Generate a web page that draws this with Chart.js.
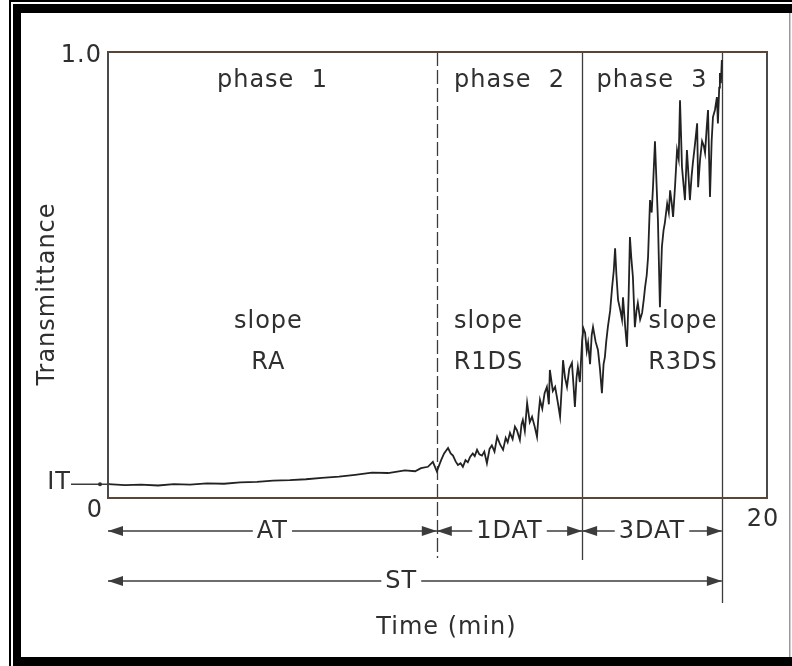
<!DOCTYPE html>
<html>
<head>
<meta charset="utf-8">
<script src="https://cdn.jsdelivr.net/npm/chart.js@4.4.1/dist/chart.umd.min.js"></script>
<style>
  html, body { margin: 0; padding: 0; background: #fff; }
  #wrap { width: 792px; height: 666px; position: relative; }
</style>
</head>
<body>
<div id="wrap"><canvas id="graficaTrans"></canvas></div>
<script>
// --- DATOS ---
const timeMin = [
  // fase 1
  0.00, 0.52, 1.00, 1.52, 2.00, 2.49, 3.00, 3.52, 4.01, 4.52, 5.01, 5.52, 6.01, 6.49, 7.01, 7.50,
  8.01, 8.50, 9.01, 9.32, 9.50, 9.71, 9.86, 9.98,
  // fase 2
  10.11, 10.20, 10.32, 10.40, 10.47, 10.55, 10.62, 10.70, 10.77, 10.85, 10.92, 10.99, 11.07, 11.13,
  11.20, 11.27, 11.35, 11.42, 11.50, 11.58, 11.65, 11.73, 11.81, 11.90, 11.99, 12.07, 12.13, 12.20,
  12.28, 12.35, 12.41, 12.50, 12.55, 12.59, 12.65, 12.72, 12.80, 12.87, 12.95, 13.02, 13.07, 13.11,
  13.18, 13.25, 13.32, 13.38, 13.41, 13.50, 13.57, 13.65, 13.72, 13.78, 13.81, 13.87, 13.93, 14.00,
  14.08, 14.13, 14.17, 14.22, 14.26, 14.32, 14.39,
  // fase 3
  14.43, 14.48, 14.53, 14.57, 14.63, 14.68, 14.72, 14.80, 14.87, 14.93, 14.99, 15.04, 15.08, 15.12,
  15.17, 15.24, 15.30, 15.35, 15.39, 15.43, 15.48, 15.55, 15.60, 15.63, 15.70, 15.75, 15.80, 15.84,
  15.88, 15.93, 15.99, 16.04, 16.08, 16.15, 16.21, 16.26, 16.30, 16.35, 16.39, 16.45, 16.50, 16.54,
  16.60, 16.65, 16.69, 16.75, 16.81, 16.86, 16.90, 16.97, 17.02, 17.06, 17.11, 17.15, 17.21, 17.27,
  17.32, 17.36, 17.42, 17.47, 17.51, 17.57, 17.62, 17.66, 17.71, 17.75, 17.81, 17.88, 17.91, 17.97,
  18.03, 18.08, 18.12, 18.17, 18.21, 18.27, 18.32, 18.36, 18.42, 18.48, 18.51, 18.55, 18.57, 18.60,
  18.63
];
const transmittance = [
  // fase 1
  0.031, 0.029, 0.030, 0.028, 0.031, 0.030, 0.033, 0.032, 0.035, 0.036, 0.039, 0.040, 0.042, 0.045, 0.048, 0.052,
  0.057, 0.056, 0.062, 0.060, 0.067, 0.070, 0.081, 0.060,
  // fase 2
  0.085, 0.100, 0.112, 0.100, 0.095, 0.082, 0.074, 0.078, 0.070, 0.085, 0.080, 0.092, 0.100, 0.094,
  0.108, 0.098, 0.095, 0.104, 0.078, 0.110, 0.118, 0.104, 0.137, 0.120, 0.108, 0.135, 0.125, 0.146,
  0.132, 0.160, 0.152, 0.130, 0.165, 0.175, 0.150, 0.213, 0.170, 0.182, 0.160, 0.137, 0.190, 0.220,
  0.200, 0.235, 0.249, 0.210, 0.287, 0.240, 0.249, 0.215, 0.182, 0.260, 0.309, 0.270, 0.249, 0.290,
  0.303, 0.250, 0.204, 0.270, 0.294, 0.260, 0.354,
  // fase 3
  0.380, 0.370, 0.330, 0.348, 0.300, 0.365, 0.383, 0.350, 0.332, 0.290, 0.235, 0.300, 0.316, 0.350,
  0.383, 0.420, 0.473, 0.510, 0.560, 0.500, 0.444, 0.420, 0.400, 0.450, 0.380, 0.339, 0.450, 0.585,
  0.540, 0.496, 0.383, 0.420, 0.437, 0.400, 0.415, 0.445, 0.473, 0.500, 0.540, 0.668, 0.640, 0.697,
  0.800, 0.700, 0.623, 0.428, 0.563, 0.600, 0.617, 0.660, 0.640, 0.690, 0.660, 0.630, 0.700, 0.780,
  0.760, 0.892, 0.742, 0.700, 0.668, 0.780, 0.720, 0.668, 0.720, 0.751, 0.790, 0.840, 0.697, 0.760,
  0.800, 0.790, 0.774, 0.830, 0.870, 0.675, 0.800, 0.854, 0.870, 0.899, 0.840, 0.920, 0.953, 0.930,
  0.982
];
const phaseBounds = [9.98, 14.39, 18.63];        // límites de fase (min)
const phaseNames = ['phase  1', 'phase  2', 'phase  3'];
const slopeNames = ['RA', 'R1DS', 'R3DS'];
const intervalNames = ['AT', '1DAT', '3DAT'];
const totalName = 'ST';
const xTickLabels = ['0', '20'];
const yTickLabel = '1.0';
const initialT = 0.031;                          // IT
const initialLabel = 'IT';
const xTitle = 'Time (min)';
const yTitle = 'Transmittance';

const INK = '#2f2f2f';
const FONT = '24px "DejaVu Sans", sans-serif';

function flecha(c, x, y, dir) {
  c.beginPath();
  c.moveTo(x, y);
  c.lineTo(x - dir * 15, y - 5);
  c.lineTo(x - dir * 15, y + 5);
  c.closePath();
  c.fill();
}

function rango(c, x0, x1, y, label, tx) {
  c.beginPath();
  c.moveTo(x0, y); c.lineTo(x1, y);
  c.stroke();
  flecha(c, x0, y, -1);
  flecha(c, x1, y, 1);
  const w = c.measureText(label).width;
  const cx = tx === undefined ? (x0 + x1) / 2 : tx;
  c.fillStyle = '#fff';
  c.fillRect(cx - w / 2 - 4, y - 10, w + 8, 20);
  c.fillStyle = INK;
  c.fillText(label, cx, y + 1);
}

const decor = {
  id: 'decor',
  beforeDraw(chart) {
    const c = chart.ctx;
    c.save();
    c.fillStyle = '#fff';
    c.fillRect(0, 0, chart.width, chart.height);
    // marco de la página
    c.fillStyle = '#000';
    c.fillRect(9, 0, 783, 2);
    c.fillRect(9, 0, 2, 666);
    c.fillRect(13, 4, 779, 9);
    c.fillRect(13, 4, 8, 662);
    c.fillRect(13, 657, 779, 9);
    c.fillStyle = '#999';
    c.fillRect(789, 13, 1.5, 644);
    c.restore();
  },
  beforeDatasetsDraw(chart) {
    const c = chart.ctx;
    const a = chart.chartArea;
    const xs = chart.scales.x;
    c.save();
    c.strokeStyle = '#3c3c3c';
    c.lineWidth = 1.3;
    // líneas verticales de fase
    const ends = [a.bottom + 60, a.bottom + 62, a.bottom + 105];
    phaseBounds.forEach((b, i) => {
      const px = Math.round(xs.getPixelForValue(b)) + 0.5;
      c.setLineDash(i === 0 ? [14, 4] : []);
      c.beginPath();
      c.moveTo(px, a.top);
      c.lineTo(px, ends[i]);
      c.stroke();
    });
    c.setLineDash([]);
    c.restore();
  },
  afterDraw(chart) {
    const c = chart.ctx;
    const a = chart.chartArea;
    const xs = chart.scales.x;
    const ys = chart.scales.y;
    c.save();
    // marco del gráfico
    c.lineWidth = 2;
    c.strokeStyle = '#4a4a4a';
    c.beginPath();
    c.moveTo(a.left, a.top); c.lineTo(a.left, a.bottom);
    c.moveTo(a.right, a.top); c.lineTo(a.right, a.bottom);
    c.stroke();
    c.strokeStyle = '#5b4636';
    c.beginPath();
    c.moveTo(a.left - 1, a.top); c.lineTo(a.right + 1, a.top);
    c.moveTo(a.left - 1, a.bottom); c.lineTo(a.right + 1, a.bottom);
    c.stroke();

    c.font = FONT;
    c.letterSpacing = '1px';
    c.fillStyle = INK;
    c.textBaseline = 'middle';

    // ticks
    c.textAlign = 'right';
    c.fillText(yTickLabel, a.left - 6, ys.getPixelForValue(1) + 4);
    c.textAlign = 'center';
    c.fillText(xTickLabels[0], xs.getPixelForValue(0) - 13, a.bottom + 13);
    c.fillText(xTickLabels[1], xs.getPixelForValue(20) - 4, a.bottom + 22);

    // IT
    const itY = ys.getPixelForValue(initialT);
    c.textAlign = 'right';
    c.fillText(initialLabel, a.left - 37, itY - 1);
    c.strokeStyle = '#3c3c3c';
    c.lineWidth = 1.5;
    c.beginPath();
    c.moveTo(a.left - 37, itY); c.lineTo(a.left + 2, itY);
    c.stroke();
    c.beginPath();
    c.arc(a.left - 8, itY, 2, 0, Math.PI * 2);
    c.fill();

    // fases y pendientes
    c.textAlign = 'center';
    const starts = [0, phaseBounds[0], phaseBounds[1]];
    const slopeShift = [-4, -21, 31];
    phaseNames.forEach((n, i) => {
      const cx = (xs.getPixelForValue(starts[i]) + xs.getPixelForValue(phaseBounds[i])) / 2;
      c.fillText(n, cx, a.top + 29);
      c.fillText('slope', cx + slopeShift[i], a.top + 270);
      c.fillText(slopeNames[i], cx + slopeShift[i], a.top + 311);
    });

    // intervalos con flechas
    c.fillStyle = '#3c3c3c';
    c.strokeStyle = '#3c3c3c';
    c.lineWidth = 1.5;
    const rowA = a.bottom + 33;
    intervalNames.forEach((n, i) => {
      rango(c, xs.getPixelForValue(starts[i]), xs.getPixelForValue(phaseBounds[i]), rowA, n);
      c.fillStyle = '#3c3c3c';
    });
    rango(c, xs.getPixelForValue(0), xs.getPixelForValue(phaseBounds[2]), a.bottom + 83, totalName,
      xs.getPixelForValue(8.9));

    // títulos
    c.fillStyle = INK;
    c.fillText(xTitle, (a.left + a.right) / 2 + 9, a.bottom + 130);
    c.translate(48, 294);
    c.rotate(-Math.PI / 2);
    c.fillText(yTitle, 0, 0);
    c.restore();
  }
};

document.addEventListener('DOMContentLoaded', function () {
  const ctx = document.getElementById('graficaTrans').getContext('2d');
  new Chart(ctx, {
    type: 'line',
    data: {
      datasets: [{
        label: yTitle,
        data: timeMin.map((t, i) => ({ x: t, y: transmittance[i] })),
        borderColor: '#222222',
        borderWidth: 1.8,
        pointRadius: 0,
        tension: 0,
        fill: false
      }]
    },
    options: {
      responsive: true,
      maintainAspectRatio: false,
      animation: false,
      layout: { padding: { left: 108, right: 25, top: 52, bottom: 168 } },
      plugins: { legend: { display: false }, tooltip: { enabled: false } },
      scales: {
        x: { type: 'linear', min: 0, max: 20, display: false },
        y: { type: 'linear', min: 0, max: 1, display: false }
      }
    },
    plugins: [decor]
  });
});
</script>
</body>
</html>
